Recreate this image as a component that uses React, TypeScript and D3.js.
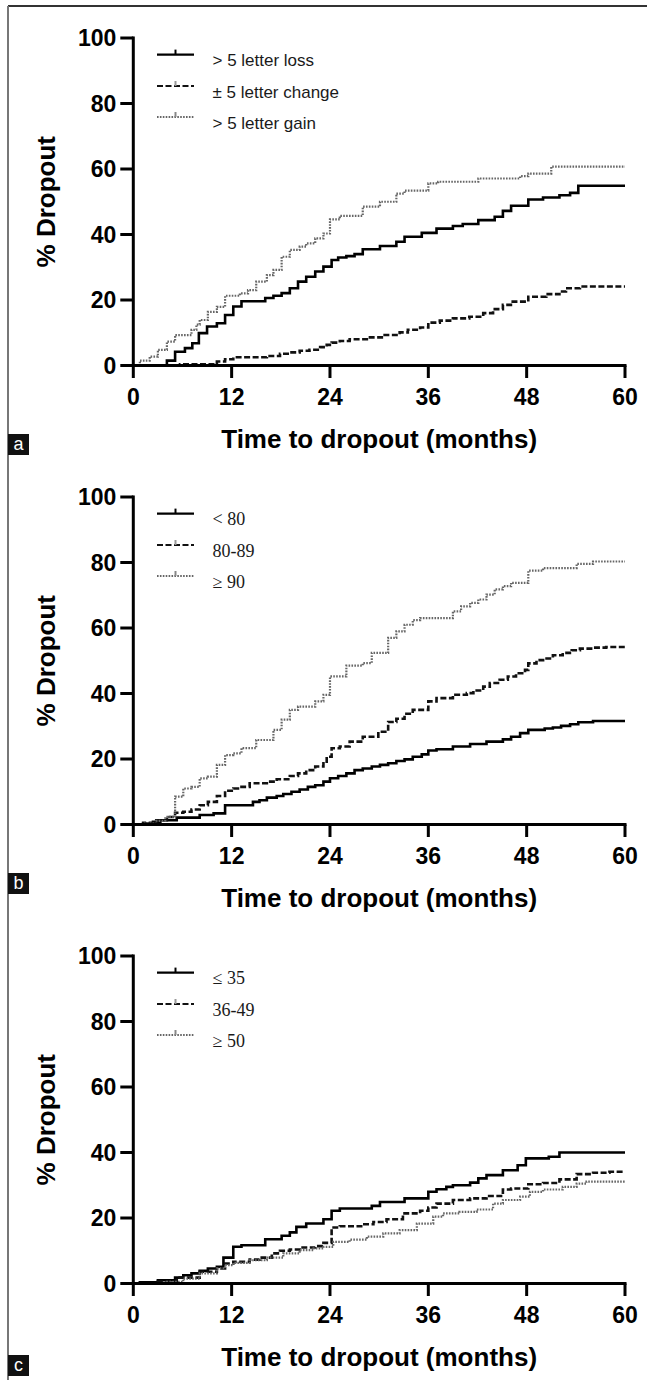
import React from "react";
import * as d3 from "d3";

const monthTicks = [0, 12, 24, 36, 48, 60];
const dropoutTicks = [0, 20, 40, 60, 80, 100];

const panelLetters = ["a", "b", "c"];
const legendA = ["> 5 letter loss", "± 5 letter change", "> 5 letter gain"];
const legendB = ["< 80", "80-89", "≥ 90"];
const legendC = ["≤ 35", "36-49", "≥ 50"];

// [month, % dropout] at each step of the curve
const lossA = [[0,0],[4.1,1.5],[5.1,4.2],[6.3,5.3],[7.2,6.8],[8.0,9.9],[9.0,11.9],[10.2,12.9],[11.2,15.4],[12.2,18.0],[13.2,19.6],[16.1,20.6],[17.1,21.3],[18.1,22.1],[19.1,23.6],[20.1,25.6],[21.1,27.1],[22.2,28.7],[23.2,30.2],[24.2,32.2],[25.0,33.0],[26.0,33.4],[27.0,34.0],[28.0,35.5],[30.1,36.5],[32.1,37.8],[33.1,39.3],[35.2,40.5],[37.0,41.8],[39.0,42.6],[40.2,43.2],[42.1,44.4],[44.1,45.4],[45.1,47.2],[46.1,48.8],[48.2,50.7],[50.0,51.3],[52.0,52.0],[53.3,52.7],[54.3,54.9]];
const changeA = [[0,0],[5.7,0.4],[10.2,1.2],[11.2,1.9],[12.2,2.5],[16.3,2.9],[17.9,3.6],[19.1,4.0],[20.3,4.5],[21.5,4.8],[22.8,5.6],[23.6,6.3],[24.2,7.0],[25.2,7.5],[26.4,8.0],[28.5,8.6],[30.5,9.3],[32.5,10.1],[33.5,10.9],[35.0,11.6],[36.0,13.1],[37.4,13.7],[39.0,14.4],[41.0,14.9],[42.7,16.0],[43.9,17.2],[45.1,18.5],[46.3,19.5],[48.2,21.0],[50.4,21.8],[52.0,22.6],[52.8,23.6],[54.5,24.1]];
const gainA = [[0,0],[0.8,1.5],[2.0,2.7],[3.0,4.8],[4.1,7.3],[5.1,9.3],[7.1,10.9],[7.7,12.5],[8.1,13.9],[9.1,16.4],[10.2,17.9],[11.2,21.3],[13.0,22.0],[14.0,23.0],[15.0,25.6],[16.3,27.6],[17.1,29.2],[18.1,33.2],[19.1,35.3],[20.3,36.3],[21.1,37.3],[22.2,38.8],[23.2,40.3],[24.0,44.6],[25.2,45.7],[28.0,48.5],[30.1,50.0],[32.1,52.5],[33.1,53.4],[36.0,55.6],[37.2,56.1],[42.1,57.1],[47.2,57.8],[48.2,58.6],[51.0,60.7]];

const under80B = [[0,0],[1.2,0.3],[2.4,0.8],[3.3,1.3],[5.3,2.1],[8.1,2.9],[9.8,3.4],[11.2,5.9],[14.6,6.9],[15.4,7.4],[16.3,8.2],[17.5,8.7],[18.3,9.3],[19.3,10.0],[20.3,10.7],[21.3,11.5],[22.2,12.0],[23.2,13.1],[24.0,14.1],[25.0,14.8],[26.0,15.6],[27.0,16.6],[28.0,17.1],[29.1,17.7],[30.1,18.2],[31.1,18.7],[32.1,19.4],[33.1,19.9],[34.1,20.7],[35.2,21.4],[36.0,22.6],[37.0,23.0],[39.0,23.8],[41.1,24.6],[43.1,25.3],[45.1,26.0],[46.1,26.8],[47.2,27.9],[48.2,28.9],[50.2,29.3],[51.2,29.6],[52.2,30.1],[53.3,30.6],[54.3,31.2],[56.1,31.6]];
const mid80B = [[0,0],[1.2,0.5],[2.8,1.3],[4.1,2.3],[5.1,3.6],[6.1,3.9],[7.1,4.6],[8.1,5.9],[9.1,6.9],[10.2,8.7],[11.2,10.3],[12.2,11.0],[13.2,11.5],[14.2,12.6],[16.3,13.1],[17.5,13.8],[19.1,14.8],[20.1,15.6],[21.1,16.6],[22.2,17.7],[23.2,19.2],[23.6,20.7],[24.2,23.3],[25.2,23.8],[26.4,25.3],[28.0,26.8],[29.9,28.3],[31.1,31.3],[32.1,32.3],[33.1,33.8],[34.1,35.0],[36.0,37.6],[37.0,38.6],[39.0,39.6],[40.7,40.1],[41.5,40.9],[42.7,42.1],[43.5,43.2],[44.7,44.2],[45.7,45.2],[46.7,46.2],[47.8,47.2],[48.2,49.2],[49.2,50.2],[50.2,50.7],[51.2,51.7],[52.4,52.4],[53.5,53.2],[54.5,53.7],[56.1,54.0],[57.7,54.2]];
const over90B = [[0,0],[1.2,0.3],[2.8,1.1],[3.9,2.3],[5.1,8.5],[6.1,11.0],[7.1,11.5],[8.1,14.1],[9.1,14.6],[10.2,18.2],[11.2,21.2],[12.2,21.7],[13.2,23.3],[15.0,25.8],[17.1,28.9],[18.1,32.0],[19.1,35.0],[20.1,36.0],[22.2,37.6],[23.2,39.6],[24.0,45.2],[26.0,48.5],[28.0,49.3],[29.1,52.4],[31.1,57.0],[32.1,59.0],[33.1,61.0],[34.1,62.4],[35.0,63.0],[39.0,65.1],[40.0,66.6],[41.1,67.7],[42.1,68.7],[43.1,70.2],[44.1,71.8],[45.1,72.8],[46.1,73.8],[48.2,77.5],[50.0,78.3],[54.1,79.6],[56.1,80.3]];

const le35C = [[0,0],[0.8,0.4],[3.0,1.0],[5.1,1.8],[6.1,2.5],[7.1,3.1],[8.1,3.9],[9.1,4.6],[10.2,5.1],[11.0,7.9],[12.2,11.2],[13.2,11.7],[16.1,13.5],[18.1,14.6],[19.1,15.6],[19.9,17.3],[21.1,18.3],[23.2,19.6],[24.2,22.2],[25.2,22.9],[29.1,23.7],[30.1,24.9],[33.1,26.0],[36.0,28.0],[37.0,28.8],[38.2,29.5],[39.0,30.0],[41.1,30.8],[42.1,32.1],[43.1,33.1],[45.1,34.6],[46.9,36.1],[47.9,38.2],[50.7,38.7],[52.0,40.0]];
const mid36C = [[0,0],[3.0,0.6],[5.3,1.8],[8.1,3.6],[10.2,4.6],[11.2,6.1],[12.2,6.6],[14.2,7.3],[15.4,7.9],[16.9,9.2],[17.9,10.0],[19.1,10.4],[20.3,11.0],[22.2,11.4],[23.2,12.4],[24.2,17.1],[25.2,17.5],[28.0,18.1],[29.3,18.8],[30.9,19.6],[32.9,21.4],[35.0,22.2],[36.0,23.2],[37.0,24.4],[39.0,25.5],[41.1,26.0],[43.1,26.7],[45.1,28.7],[46.1,29.0],[48.2,30.3],[50.0,30.7],[52.0,31.8],[54.1,33.4],[56.1,33.8],[58.1,34.1]];
const ge50C = [[0,0],[4.1,0.5],[6.1,1.5],[8.1,3.1],[10.2,4.6],[11.2,5.6],[12.2,6.3],[14.2,7.1],[16.3,7.9],[18.3,9.2],[20.3,10.2],[22.0,10.7],[23.2,11.2],[24.4,12.7],[26.4,13.4],[28.5,14.3],[30.5,15.3],[32.5,16.3],[34.6,18.3],[36.6,20.4],[37.8,21.4],[39.8,21.9],[41.9,22.6],[43.9,24.4],[45.1,25.5],[47.2,26.5],[48.4,28.0],[50.0,28.7],[52.4,29.5],[54.1,30.5],[55.3,31.1]];

const panels = [
  { legend: legendA, series: [lossA, changeA, gainA], serif: false },
  { legend: legendB, series: [under80B, mid80B, over90B], serif: true },
  { legend: legendC, series: [le35C, mid36C, ge50C], serif: true },
];

// layout
const W = 647;
const H = 1380;
const plotLeft = 133.3;
const plotRight = 625;
const plotH = 327.5;
const panelTops = [38, 497, 956];
const letterBoxOffsets = [68.5, 48.5, 71.5];
const legendRows = [16.6, 48, 79];

const lineStyles = [
  { stroke: "#000", width: 2.6, dash: null, tick: "#000" },
  { stroke: "#111", width: 2.6, dash: "6 2.5", tick: "#999" },
  { stroke: "#666", width: 2.2, dash: "1.6 1.3", tick: "#888" },
];

const sans = "'Liberation Sans', Arial, Helvetica, sans-serif";
const serif = "'Liberation Serif', 'Times New Roman', serif";

const Panel = ({ index }) => {
  const panel = panels[index];
  const top = panelTops[index];
  const bottom = top + plotH;
  const x = d3.scaleLinear().domain([0, 60]).range([plotLeft, plotRight]);
  const y = d3.scaleLinear().domain([0, 100]).range([bottom, top]);
  const line = d3
    .line()
    .x((d) => x(d[0]))
    .y((d) => y(d[1]))
    .curve(d3.curveStepAfter);
  const boxY = bottom + letterBoxOffsets[index];

  return (
    <g>
      {/* curves */}
      {panel.series.map((s, j) => {
        const pts = [...s, [60, s[s.length - 1][1]]];
        const st = lineStyles[j];
        return (
          <path
            key={j}
            d={line(pts)}
            fill="none"
            stroke={st.stroke}
            strokeWidth={st.width}
            strokeDasharray={st.dash || undefined}
          />
        );
      })}

      {/* axes */}
      <line x1={plotLeft} y1={top - 1.5} x2={plotLeft} y2={bottom} stroke="#000" strokeWidth={3} />
      <line x1={plotLeft - 1.5} y1={bottom} x2={plotRight + 1.5} y2={bottom} stroke="#000" strokeWidth={3} />
      {dropoutTicks.map((t) => (
        <g key={t} transform={`translate(0,${y(t)})`}>
          <line x1={plotLeft - 13} x2={plotLeft} y1={0} y2={0} stroke="#000" strokeWidth={3} />
          <text
            x={plotLeft - 17}
            y={8.3}
            textAnchor="end"
            fontFamily={sans}
            fontWeight="bold"
            fontSize={23}
            fill="#000"
          >
            {t}
          </text>
        </g>
      ))}
      {monthTicks.map((t) => (
        <g key={t} transform={`translate(${x(t)},0)`}>
          <line x1={0} x2={0} y1={bottom} y2={bottom + 12.5} stroke="#000" strokeWidth={3} />
          <text
            x={0}
            y={bottom + 39.5}
            textAnchor="middle"
            fontFamily={sans}
            fontWeight="bold"
            fontSize={23}
            fill="#000"
          >
            {t}
          </text>
        </g>
      ))}

      <text
        transform={`translate(55,${(top + bottom) / 2}) rotate(-90)`}
        textAnchor="middle"
        fontFamily={sans}
        fontWeight="bold"
        fontSize={26}
        fill="#000"
      >
        % Dropout
      </text>
      <text
        x={(plotLeft + plotRight) / 2}
        y={bottom + 82}
        textAnchor="middle"
        fontFamily={sans}
        fontWeight="bold"
        fontSize={26}
        fill="#000"
      >
        Time to dropout (months)
      </text>

      {/* legend */}
      {panel.legend.map((name, j) => {
        const st = lineStyles[j];
        const ly = top + legendRows[j];
        return (
          <g key={j}>
            <line
              x1={157}
              x2={194}
              y1={ly}
              y2={ly}
              stroke={st.stroke}
              strokeWidth={st.width - 0.4}
              strokeDasharray={st.dash || undefined}
            />
            <line x1={175.5} x2={175.5} y1={ly} y2={ly - 5} stroke={st.tick} strokeWidth={2} />
            <text
              x={212.5}
              y={ly + 11.5}
              fontFamily={panel.serif ? serif : sans}
              fontSize={panel.serif ? 18 : 17}
              fill="#1a1a1a"
            >
              {name}
            </text>
          </g>
        );
      })}

      {/* panel letter */}
      <rect x={8} y={boxY} width={21} height={21} fill="#111" />
      <text
        x={18.5}
        y={boxY + 16}
        textAnchor="middle"
        fontFamily={sans}
        fontSize={18}
        fill="#fff"
      >
        {panelLetters[index]}
      </text>
    </g>
  );
};

export default function App() {
  return (
    <svg
      width={W}
      height={H}
      style={{ position: "absolute", left: 0, top: 0, display: "block", background: "#fff" }}
    >
      <rect x={0} y={0} width={W} height={H} fill="#fff" />
      <line x1={8} y1={6} x2={W} y2={6} stroke="#333" strokeWidth={2} />
      <line x1={8} y1={6} x2={8} y2={H} stroke="#777" strokeWidth={2} />
      {panels.map((p, i) => (
        <Panel key={i} index={i} />
      ))}
    </svg>
  );
}
